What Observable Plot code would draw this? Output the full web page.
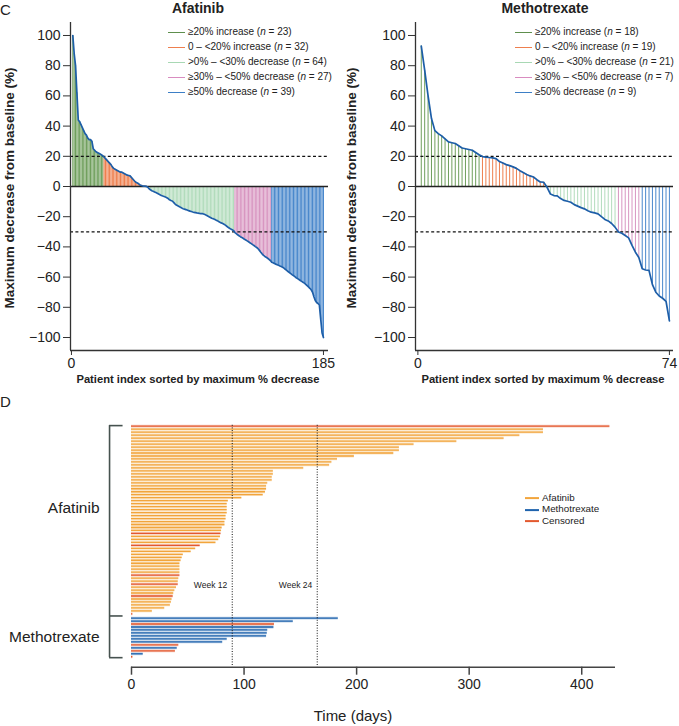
<!DOCTYPE html>
<html><head><meta charset="utf-8">
<script src="https://cdn.jsdelivr.net/npm/d3@7"></script>
<script src="https://cdn.jsdelivr.net/npm/@observablehq/plot@0.6"></script>
<style>
body{margin:0;background:#fff;font-family:"Liberation Sans",Arial,sans-serif;color:#222;}
#root{position:relative;width:679px;height:726px;overflow:hidden;background:#fff;}
.abs{position:absolute;white-space:nowrap;line-height:1;}
.sw{display:inline-block;vertical-align:middle;margin-right:3px;}
</style></head><body><div id="root"></div>
<script>
// ---------- DATA ----------
const categoryLabels = ["≥20% increase", "0 – <20% increase", ">0% – <30% decrease", "≥30% – <50% decrease", "≥50% decrease"];
const categoryColors = ["#6f9f5c", "#ee7f4e", "#b2dcbc", "#d896c1", "#4a88cc"];
const legendColors = ["#5e8f4d", "#ee7f4e", "#a8d8b4", "#d98cc0", "#3d7fc6"];
const afatinibCounts = [23, 32, 64, 27, 39];
const methotrexateCounts = [18, 19, 21, 7, 9];
const refLines = [20, -30];
const yTicks = [-100, -80, -60, -40, -20, 0, 20, 40, 60, 80, 100];

const afatinibChange = [100,88,80,62,44,43,41,39,37,35,34,32,31,31,30,25,24,23,22.5,22,21.5,21,20.3,
19.5,18.5,17.5,16.5,15.5,14.5,13,12,11.5,11,10.5,10,9.5,9.5,9,8.5,8,7.5,7.3,7,6,5,4,3,2.5,2,1.2,0.8,0.5,0.3,0.2,0.1,
-0.5,-1.5,-2.2,-2.8,-3.2,-3.6,-4,-4.5,-5,-5.5,-6,-6.3,-6.6,-7,-7.4,-8,-8.8,-9.3,-9.6,-10.5,-11.5,-12.3,-12.8,-13.3,-13.8,-14.3,-14.7,-15,-15.3,-15.6,-16,-16.3,-16.6,-16.9,-17.1,-17.3,-17.5,-17.6,-17.8,-17.9,-18,-18.2,-18.6,-19,-19.5,-20,-20.5,-21,-21.3,-21.7,-22.2,-22.6,-23.1,-23.6,-24.1,-24.5,-25,-25.6,-26.3,-27,-27.6,-28.2,-28.6,-29.2,
-30.5,-31.2,-32,-32.6,-33.2,-33.7,-34.3,-34.9,-35.4,-36,-36.6,-37.2,-37.8,-38.5,-39.1,-39.8,-40.4,-41.2,-42.3,-43.5,-44.6,-45.6,-46.3,-46.9,-47.5,-48.2,-49,
-50.1,-50.5,-51,-51.4,-51.8,-52.2,-52.6,-53,-53.5,-54,-54.8,-55.5,-56.3,-57,-57.7,-58.4,-59,-59.7,-60.4,-61,-61.6,-62.2,-62.8,-63.4,-64,-64.8,-65.6,-66.5,-67.4,-68.4,-70,-73,-75.5,-76.8,-77.5,-78.5,-88,-97,-100];

const methotrexateChange = [93,77,60,45,37,35,33.5,31.5,29.5,29,28.5,27,25.5,25,24.5,24,22.5,21,
19.8,19.5,19.2,19,18.5,16.5,15.5,14.5,13.8,13,12,10.5,9.2,8,7,6.3,4.5,3,2.8,
-0.5,-5,-6,-6.2,-8,-9.2,-9.8,-10.4,-12,-13,-14,-14.8,-16,-17,-17.5,-18.1,-20,-21.8,-22.8,-24.5,-26.9,
-30.1,-31,-32.5,-34,-39,-43.5,-47,
-54.5,-55.3,-55.6,-65,-70,-72.5,-74,-76,-89];

// Panel D: days on treatment per patient (top to bottom)
const afatinibDays = [425,366,366,345,331,289,251,238,238,233,198,183,178,176,153,126,126,125,125,121,
120,120,119,117,98,86,85,85,85,85,84,84,83,83,80.5,80,79.5,79,77.5,75,61,57,53,46,45,44,43,43,43,43,
43,42,41.5,41.5,40,38.5,37.5,37,36,35.5,34.5,29.5,18.5,1.2];
const afatinibCensored = [0, 36, 40, 50, 53, 57, 63];
const methotrexateDays = [183.7,143.7,127,126.5,121,120.6,120,85,81,42,40.6,39,10.4,1.2];
const methotrexateCensored = [2, 9, 11, 13];
const weekLines = [89.5, 165];
const weekLabels = ["Week 12", "Week 24"];
const dayTicks = [0, 100, 200, 300, 400];
const statusNames = ["Afatinib", "Methotrexate", "Censored"];
const statusColors = ["#f2a53c", "#1f63ad", "#e3592f"];

// ---------- HELPERS ----------
const root = document.getElementById("root");
const FONT = "Liberation Sans, Arial, sans-serif";
function label(html, {x, y, size = 12, weight = "normal", anchor = "start", rotate = 0, color = "#222"}) {
  const d = document.createElement("div");
  d.className = "abs";
  d.innerHTML = html;
  d.style.fontSize = size + "px";
  d.style.fontWeight = weight;
  d.style.color = color;
  d.style.left = x + "px";
  d.style.top = y + "px";
  const tx = anchor === "middle" ? "-50%" : anchor === "end" ? "-100%" : "0";
  d.style.transform = `translate(${tx},-50%)` + (rotate ? ` rotate(${rotate}deg)` : "");
  root.appendChild(d);
  return d;
}
function placeSvg(svg, left, top) {
  svg.style.position = "absolute";
  svg.style.left = left + "px";
  svg.style.top = top + "px";
  root.appendChild(svg);
}
const minusFmt = d => d < 0 ? "\u2212" + (-d) : String(d);

function waterfall(values, counts, {width, marginLeft, marginRight, xMax, barWidth}) {
  const cats = [];
  counts.forEach((n, c) => { for (let j = 0; j < n; j++) cats.push(c); });
  const data = values.map((v, j) => ({i: j + 1, v, color: categoryColors[cats[j]]}));
  const xDom = [-0.7, xMax];
  const yDom = [-108.6, 108.6];
  return Plot.plot({
    width, height: 390, marginLeft, marginRight, marginTop: 22, marginBottom: 40,
    style: {fontFamily: FONT, fontSize: "14px", color: "#222", background: "transparent", overflow: "visible"},
    x: {domain: xDom, axis: null},
    y: {domain: yDom, axis: null},
    color: {type: "identity"},
    marks: [
      Plot.ruleX(data, {x: "i", y1: 0, y2: "v", stroke: "color", strokeWidth: barWidth}),
      Plot.ruleY(refLines, {stroke: "#111", strokeWidth: 1.3, strokeDasharray: "3,2.4"}),
      Plot.ruleY([0], {stroke: "#222", strokeWidth: 1.3}),
      Plot.line(data, {x: "i", y: "v", stroke: "#1d5ea8", strokeWidth: 1.7}),
      Plot.ruleX([xDom[0]], {stroke: "#333", strokeWidth: 1.3}),
      Plot.ruleY([yDom[0]], {stroke: "#333", strokeWidth: 1.3}),
      Plot.axisY(yTicks, {tickSize: 7, tickPadding: 3, tickFormat: minusFmt, label: null, stroke: "#333"}),
      Plot.axisX([0, values.length], {tickSize: 5, tickPadding: 3, label: null, stroke: "#333"})
    ]
  });
}

// ---------- PANEL C ----------
placeSvg(waterfall(afatinibChange, afatinibCounts, {width: 340, marginLeft: 70, marginRight: 12, xMax: 188.7, barWidth: 1.1}), 0, 0);
placeSvg(waterfall(methotrexateChange, methotrexateCounts, {width: 339, marginLeft: 75, marginRight: 6, xMax: 75.2, barWidth: 1}), 340, 0);

label("C", {x: 0, y: 9, size: 15});
label("Afatinib", {x: 198, y: 8, size: 14, weight: "bold", anchor: "middle"});
label("Methotrexate", {x: 545, y: 8, size: 14, weight: "bold", anchor: "middle"});
label("Maximum decrease from baseline (%)", {x: 10, y: 188, size: 13.5, weight: "bold", anchor: "middle", rotate: -90});
label("Maximum decrease from baseline (%)", {x: 352, y: 188, size: 13.5, weight: "bold", anchor: "middle", rotate: -90});
label("Patient index sorted by maximum % decrease", {x: 198, y: 380, size: 11.2, weight: "bold", anchor: "middle"});
label("Patient index sorted by maximum % decrease", {x: 543, y: 380, size: 11.2, weight: "bold", anchor: "middle"});

function legendC(x, counts) {
  categoryLabels.forEach((t, c) => {
    label(`<span class="sw" style="width:17px;border-top:1.2px solid ${legendColors[c]}"></span>${t.replace(/</g, "&lt;").replace(/>/g, "&gt;")} (<i>n</i> = ${counts[c]})`,
      {x, y: 32 + 15 * c, size: 10});
  });
}
legendC(168, afatinibCounts);
legendC(515, methotrexateCounts);

// ---------- PANEL D ----------
const groupGap = 0.4;
const rowsA = afatinibDays.map((d, k) => ({row: k, days: d, s: afatinibCensored.includes(k) ? 2 : 0}));
const firstM = afatinibDays.length + groupGap;
const rowsM = methotrexateDays.map((d, m) => ({row: firstM + m, days: d, s: methotrexateCensored.includes(m) ? 2 : 1}));
const rows = rowsA.concat(rowsM).map(r => ({...r, color: statusColors[r.s]}));
const lastRow = rows[rows.length - 1].row;
const axisRow = lastRow + 3.5;
const xDomD = [0, 430];
const bracketX = -19.5, bracketTickEnd = -7.5;
const bracketRows = [-0.2, (afatinibDays.length - 1 + firstM) / 2, lastRow + 0.3];
const groupLabels = [{name: "Afatinib", row: 27.4}, {name: "Methotrexate", row: (firstM + lastRow) / 2}];
const weekLabelRow = 53.5;

const panelD = Plot.plot({
  width: 679, height: 326, marginLeft: 131, marginRight: 64, marginTop: 25.7, marginBottom: 59.3,
  style: {fontFamily: FONT, fontSize: "14px", color: "#222", background: "transparent", overflow: "visible"},
  x: {domain: xDomD, axis: null},
  y: {domain: [0, axisRow], reverse: true, axis: null},
  color: {type: "identity"},
  marks: [
    Plot.ruleY(rows, {y: "row", x1: 0, x2: "days", stroke: "color", strokeOpacity: 0.3, strokeWidth: 2.8}),
    Plot.ruleY(rows, {y: "row", x1: 0, x2: "days", stroke: "color", strokeWidth: 1.3}),
    Plot.ruleX(weekLines, {y1: -0.3, y2: axisRow, stroke: "#111", strokeWidth: 1, strokeDasharray: "1,1.6"}),
    Plot.text(weekLines, {x: d => d, y: () => weekLabelRow, text: (d, i) => weekLabels[i], textAnchor: "end", dx: -5, fontSize: 8.5, fill: "#222"}),
    Plot.ruleX([bracketX], {y1: bracketRows[0], y2: bracketRows[2], stroke: "#46524f", strokeWidth: 1.6}),
    Plot.ruleY(bracketRows, {x1: bracketX, x2: bracketTickEnd, stroke: "#46524f", strokeWidth: 1.6}),
    Plot.text(groupLabels, {x: () => bracketX, y: "row", text: "name", textAnchor: "end", dx: -10, fontSize: 15.5, fill: "#222"}),
    Plot.ruleY([axisRow], {x1: xDomD[0], x2: xDomD[1], stroke: "#444", strokeWidth: 1.5}),
    Plot.axisX(dayTicks, {tickSize: 8, tickPadding: 4, label: null, stroke: "#444", strokeWidth: 1.5})
  ]
});
placeSvg(panelD, 0, 400);

label("D", {x: 0, y: 401, size: 15});
label("Time (days)", {x: 353, y: 715, size: 15, anchor: "middle"});
statusNames.forEach((t, s) => {
  label(`<span class="sw" style="width:14px;border-top:2.6px solid ${statusColors[s]}"></span>${t}`, {x: 525, y: 498 + 11.3 * s, size: 9.8});
});
</script></body></html>
